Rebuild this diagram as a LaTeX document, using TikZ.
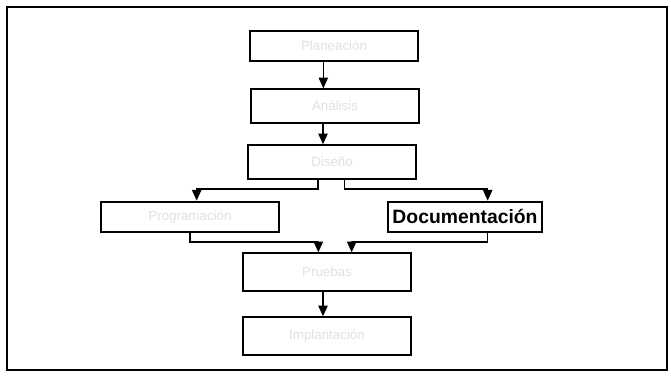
\documentclass[tikz,border=0pt]{standalone}
\usepackage{fontspec}
\setmainfont{Liberation Sans}
\usepackage{tikz}
\usetikzlibrary{arrows.meta}

\begin{document}
\begin{tikzpicture}[x=0.75pt, y=-0.75pt, font=\normalsize,
  etapa/.style={draw, line width=1.5pt, minimum width=126pt, minimum height=25pt, text=black!12},
  flecha/.style={line width=0.9pt, -{Triangle[length=8pt, width=7pt]}},
  linea/.style={line width=0.9pt}]

\useasboundingbox (0,0) rectangle (671,377);
\draw[line width=1.6pt] (7,7) rectangle (667,370);

% etapas
\node[etapa, minimum height=23pt] (plan) at (334,46) {Planeación};
\node[etapa] (anal) at (335,106) {Análisis};
\node[etapa] (dise) at (332,162) {Diseño};
\node[etapa, minimum width=134pt, minimum height=23pt] (prog) at (190,217) {Programación};
\node[etapa, minimum width=110pt, minimum height=23pt, text=black, font=\fontsize{14.5}{16}\selectfont\bfseries] (docu) at (465,217) {Documentación};
\node[etapa, minimum height=28pt] (prue) at (327,272) {Pruebas};
\node[etapa, minimum height=28pt] (impl) at (327,336) {Implantación};

% puntos de quiebre
\coordinate (div) at (0,189);
\coordinate (uni) at (0,242);
\coordinate (s3a) at ([xshift=-10.5pt]dise.south);
\coordinate (s3b) at ([xshift=9.5pt]dise.south);
\coordinate (e4) at ([xshift=5pt]prog.north);
\coordinate (ed) at ([xshift=17pt]docu.north);
\coordinate (sd) at ([xshift=17pt]docu.south);
\coordinate (e5a) at ([xshift=-6.5pt]prue.north);
\coordinate (e5b) at ([xshift=18.5pt]prue.north);

\draw[flecha] ([xshift=-8pt]plan.south) -- ([xshift=-8pt]plan.south |- anal.north);
\draw[flecha] ([xshift=-9pt]anal.south) -- ([xshift=-9pt]anal.south |- dise.north);

\draw[flecha] (s3a) -- (s3a |- div) -| (e4);
\draw[flecha] (s3b) -- (s3b |- div) -| (ed);

\draw[flecha] (prog.south) -- (prog.south |- uni) -| (e5a);
\draw[flecha] (sd) -- (sd |- uni) -| (e5b);

\draw[flecha] ([xshift=-3pt]prue.south) -- ([xshift=-3pt]prue.south |- impl.north);

\end{tikzpicture}
\end{document}
